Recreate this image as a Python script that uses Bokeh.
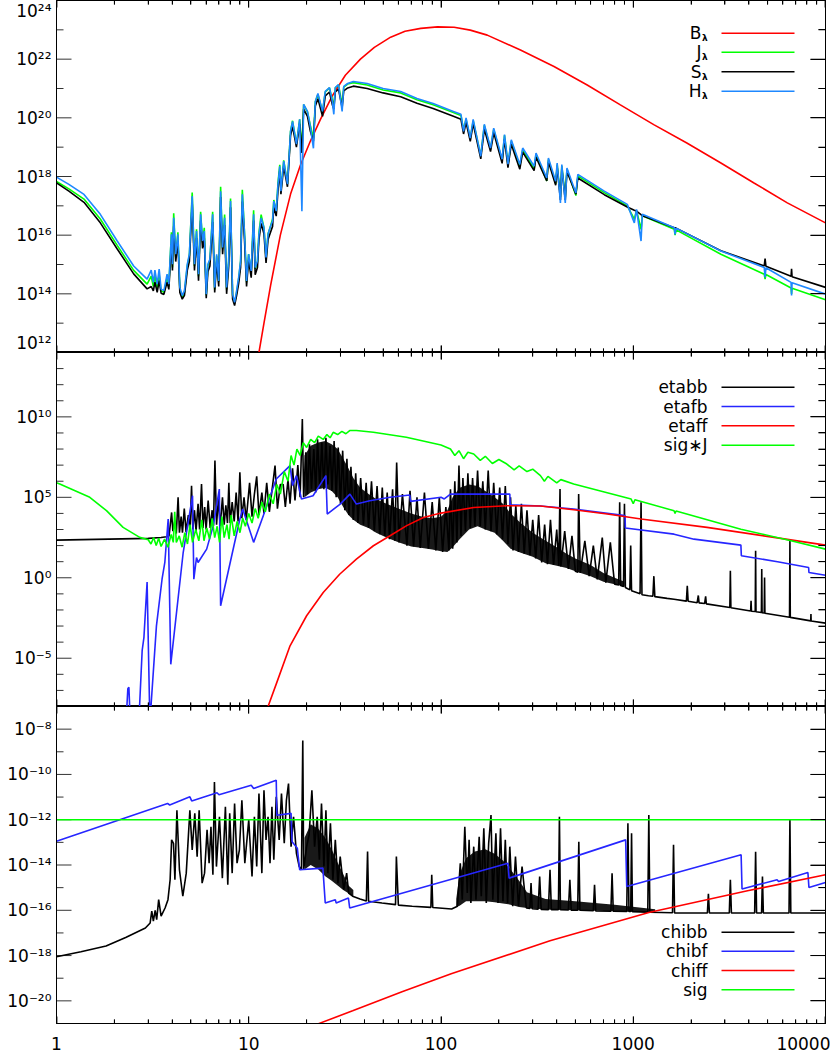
import numpy as np
from bokeh.plotting import figure
from bokeh.layouts import column
from bokeh.models import Range1d, LogAxis, FixedTicker, CustomJSTickFormatter
from bokeh.core.properties import value
from bokeh.embed import file_html
from bokeh.resources import INLINE

# ---------------- DATA (wavelength in micron, values as log10) ----------------
# Top panel: shared wavelength grid for H, J, S (line region)
lam_top_a = [1.0, 1.16, 1.39, 1.69, 2.07, 2.52, 2.96, 3.11, 3.19, 3.25,
             3.34, 3.42, 3.50, 3.62, 3.76, 3.84, 3.96, 4.01, 4.07, 4.17,
             4.28, 4.38, 4.51, 4.63, 4.79, 4.91, 5.08, 5.22, 5.35, 5.48,
             5.62, 5.75, 5.87, 6.01, 6.13, 6.28, 6.49, 6.65, 6.81, 6.98,
             7.14, 7.31, 7.49, 7.67, 7.86, 8.04, 8.24, 8.44, 8.65, 8.86,
             9.07, 9.26, 9.51, 9.74, 9.98, 10.3, 10.6, 10.8, 11.1, 11.3,
             11.6, 12.0, 12.3, 12.6, 12.9, 13.3, 13.5, 13.9, 14.2, 14.5,
             14.7, 15.2, 15.9, 16.5, 16.9, 17.7, 18.4, 18.9, 19.3, 20.2,
             20.9, 21.7, 22.2, 22.9, 24.2, 25.0, 26.3, 27.2, 27.7, 28.2,
             29.3, 30.6, 31.2, 32.7]
H_a = [17.98, 17.73, 17.39, 16.71, 15.80, 14.95, 14.50, 14.81, 14.39, 14.81,
       14.33, 14.84, 14.16, 14.11, 14.67, 14.33, 16.03, 15.01, 16.59, 15.35,
       16.03, 14.22, 13.94, 14.11, 15.01, 15.35, 17.33, 15.01, 16.14, 14.67,
       16.71, 15.80, 16.14, 13.99, 15.01, 15.18, 16.71, 14.22, 15.35, 14.44,
       17.50, 15.58, 16.59, 14.22, 15.12, 17.16, 13.99, 13.71, 14.11, 14.56,
       15.12, 17.39, 16.03, 14.44, 15.35, 14.78, 16.71, 14.90, 15.12, 16.03,
       16.59, 16.25, 15.24, 16.03, 16.25, 16.48, 17.16, 16.82, 17.73, 18.35,
       17.50, 18.52, 17.74, 19.54, 19.88, 19.10, 19.95, 16.82, 20.46, 20.22,
       19.71, 18.96, 20.56, 20.83, 20.22, 20.90, 21.03, 20.56, 20.12, 21.03,
       21.13, 20.22, 21.07, 21.17]
S_a = [17.78, 17.50, 17.12, 16.42, 15.53, 14.68, 14.17, 14.25, 14.10, 14.40,
       14.05, 14.45, 14.02, 13.98, 14.40, 14.15, 15.70, 14.80, 16.30, 15.10,
       15.80, 14.05, 13.82, 13.95, 14.80, 15.10, 17.10, 14.80, 15.90, 14.45,
       16.50, 15.55, 15.90, 13.85, 14.75, 14.95, 16.45, 14.05, 15.10, 14.25,
       17.30, 15.35, 16.35, 14.00, 14.90, 16.95, 13.82, 13.60, 13.95, 14.35,
       14.90, 17.15, 15.80, 14.25, 15.15, 14.55, 16.50, 14.65, 14.90, 15.85,
       16.40, 16.05, 15.05, 15.85, 16.05, 16.30, 16.95, 16.65, 17.55, 18.20,
       17.40, 18.35, 17.65, 19.40, 19.70, 19.00, 19.80, 18.80, 20.30, 20.05,
       19.55, 19.20, 20.40, 20.65, 20.05, 20.75, 20.88, 20.45, 20.30, 20.88,
       20.98, 20.35, 20.92, 21.02]
J_a = [17.83, 17.58, 17.23, 16.55, 15.65, 14.80, 14.33, 14.60, 14.25, 14.60,
       14.20, 14.65, 14.10, 14.05, 14.55, 14.25, 16.10, 14.90, 16.75, 15.25,
       16.10, 14.15, 13.88, 14.05, 14.95, 15.30, 17.45, 14.95, 16.20, 14.60,
       16.80, 15.75, 16.25, 13.95, 14.95, 15.15, 16.80, 14.15, 15.30, 14.40,
       17.65, 15.55, 16.70, 14.15, 15.10, 17.25, 13.95, 13.68, 14.05, 14.50,
       15.10, 17.55, 16.05, 14.40, 15.35, 14.75, 16.85, 14.85, 15.10, 16.10,
       16.70, 16.25, 15.20, 16.05, 16.25, 16.55, 17.20, 16.80, 17.80, 18.40,
       17.50, 18.55, 17.75, 19.55, 19.90, 19.10, 19.95, 18.90, 20.45, 20.20,
       19.75, 19.30, 20.55, 20.80, 20.20, 20.88, 21.02, 20.60, 20.40, 21.02,
       21.12, 20.45, 21.05, 21.15]
# Top panel: shared grid for the long-wavelength part
lam_top_b = [35.0, 41.3, 50, 61.7, 75, 91, 116, 127,
             131, 135, 142, 147, 161, 168, 181, 188,
             208, 214, 223, 232, 257, 266, 305, 312,
             355, 362, 395, 402, 418, 425, 443, 452,
             503, 515, 707, 931, 1013, 1040, 1098, 1115,
             1635, 1650, 1670, 2857, 4800, 4850, 4900, 6620,
             6660, 6700, 10000]
H_b = [21.24, 21.17, 21.00, 20.90, 20.66, 20.49, 20.22, 20.12,
       19.54, 20.00, 19.31, 19.95, 18.69, 19.78, 18.97, 19.65,
       18.59, 19.43, 18.42, 19.25, 18.41, 18.97, 18.35, 18.80,
       17.95, 18.63, 17.84, 18.46, 17.10, 18.41, 17.10, 18.29,
       17.44, 18.07, 17.50, 17.05, 16.42, 16.88, 15.80, 16.71,
       16.25, 16.03, 16.24, 15.46, 14.90, 14.56, 14.89, 14.39,
       13.94, 14.38, 13.99]
S_b = [21.08, 21.00, 20.85, 20.72, 20.50, 20.32, 20.05, 19.95,
       19.45, 19.85, 19.20, 19.80, 18.60, 19.62, 18.85, 19.50,
       18.45, 19.28, 18.30, 19.10, 18.25, 18.83, 18.20, 18.66,
       17.85, 18.50, 17.70, 18.33, 17.20, 18.28, 17.20, 18.17,
       17.40, 17.95, 17.38, 16.96, 16.85, 16.82, 16.70, 16.66,
       16.25, 16.25, 16.24, 15.47, 14.95, 15.20, 14.94, 14.60,
       14.85, 14.58, 14.22]
J_b = [21.20, 21.12, 20.95, 20.85, 20.62, 20.45, 20.18, 20.08,
       19.60, 19.95, 19.30, 19.90, 18.70, 19.74, 18.95, 19.60,
       18.55, 19.40, 18.40, 19.20, 18.35, 18.92, 18.25, 18.75,
       17.85, 18.58, 17.75, 18.41, 17.30, 18.36, 17.30, 18.25,
       17.35, 18.02, 17.45, 17.00, 16.55, 16.84, 16.20, 16.66,
       16.20, 16.00, 16.18, 15.35, 14.67, 14.50, 14.66, 14.20,
       14.00, 14.19, 13.80]
lam_B = [10.5, 11.3, 12.0, 13.0, 14.6, 16.5, 18.6, 20.9, 23.6, 27.2,
         31.8, 38.1, 45.0, 54.7, 65.0, 78.5, 95.9, 117, 142, 174,
         259, 387, 576, 857, 1278, 1900, 2857, 4247, 6330, 10000]
B_vals = [11.3, 12.0, 13.0, 14.3, 16.0, 17.4, 18.4, 19.2, 19.95, 20.75,
          21.45, 22.0, 22.4, 22.75, 22.95, 23.05, 23.10, 23.09, 22.99, 22.82,
          22.31, 21.75, 21.12, 20.44, 19.77, 19.14, 18.46, 17.78, 17.10, 16.42]

# Middle panel: (wavelength, log10 value)
etabb = [(1.0, 2.34), (3.0, 2.45), (3.5, 2.50), (3.73, 2.55), (3.85, 2.60), (3.97, 4.06),
         (4.03, 2.90), (4.12, 3.50), (4.20, 2.75), (4.29, 5.00), (4.36, 2.80), (4.45, 3.80),
         (4.52, 2.80), (4.62, 4.30), (4.72, 2.85), (4.85, 3.90), (4.95, 2.90), (5.04, 5.72),
         (5.12, 3.00), (5.22, 4.20), (5.32, 2.90), (5.45, 4.60), (5.55, 3.00), (5.68, 5.83),
         (5.78, 3.10), (5.90, 4.40), (6.00, 3.00), (6.15, 4.80), (6.30, 3.10), (6.45, 4.20),
         (6.55, 3.20), (6.67, 7.28), (6.80, 3.30), (6.95, 4.90), (7.10, 3.20), (7.30, 5.00),
         (7.45, 3.30), (7.60, 4.50), (7.75, 3.40), (7.88, 5.90), (8.00, 3.40), (8.20, 4.70),
         (8.40, 3.50), (8.60, 5.30), (8.80, 3.50), (8.99, 6.55), (9.20, 3.70), (9.45, 5.00),
         (9.70, 3.60), (10.1, 5.90), (10.4, 3.80), (10.7, 5.20), (11.0, 6.30), (11.3, 3.90),
         (11.7, 5.30), (12.0, 4.00), (12.4, 5.90), (12.8, 4.10), (13.2, 5.40), (13.7, 6.97),
         (14.1, 4.30), (14.6, 5.80), (15.1, 5.80), (15.5, 4.40), (16.0, 6.10), (16.4, 4.60),
         (16.9, 6.80), (17.4, 4.80), (18.0, 7.00), (18.5, 5.00), (19.0, 9.87), (19.3, 5.00),
         (19.8, 7.80), (20.2, 5.20), (20.7, 8.30), (21.2, 5.50), (21.8, 8.00), (22.3, 5.30),
         (22.8, 8.60), (23.4, 5.60), (24.0, 8.40), (24.6, 5.50), (25.2, 8.70), (25.8, 5.80),
         (26.5, 8.20), (27.1, 5.40), (27.8, 8.50), (28.5, 5.00), (29.2, 8.10), (30.0, 4.60),
         (30.8, 7.90), (31.6, 4.20), (32.4, 7.40), (33.2, 3.90), (34.0, 6.90), (35.0, 3.60),
         (36.0, 6.50), (37.0, 3.40), (38.2, 6.20), (39.5, 3.30), (40.8, 5.90), (42.0, 3.10),
         (43.5, 6.00), (45.0, 2.90), (46.5, 5.70), (48.0, 2.70), (49.5, 5.60), (51.0, 2.60),
         (52.5, 5.30), (54.0, 2.40), (56.0, 5.50), (57.5, 2.30), (58.8, 7.17), (60.5, 2.20),
         (63.0, 5.20), (66.5, 2.00), (69.0, 5.40), (72.0, 1.95), (75.0, 5.00), (78.0, 1.85),
         (82.0, 5.30), (86.0, 1.80), (90.0, 4.70), (94.0, 1.70), (98.0, 5.00), (102, 1.60),
         (106, 4.40), (110, 1.70), (112, 5.50), (115, 1.80), (118, 6.00), (121, 2.20),
         (124, 6.97), (127, 2.60), (130, 6.20), (134, 2.90), (138, 6.50), (142, 3.10),
         (146, 6.20), (150, 3.20), (155, 6.66), (160, 3.20), (165, 6.00), (170, 3.00),
         (176, 6.66), (182, 2.90), (188, 5.90), (195, 2.70), (202, 5.60), (209, 2.40),
         (216, 5.70), (223, 2.10), (230, 5.00), (237, 1.70), (245, 4.50), (253, 1.60),
         (262, 4.60), (271, 1.50), (280, 4.20), (290, 1.40), (300, 3.60), (311, 1.20),
         (322, 3.90), (334, 0.95), (346, 3.30), (358, 0.85), (371, 3.60), (385, 0.80),
         (400, 3.00), (410, 0.75), (416, 5.51), (420, 0.70), (440, 2.90), (460, 0.55),
         (480, 2.60), (500, 0.40), (515, 0.35), (520, 5.20), (530, 0.30), (560, 2.30),
         (590, 0.10), (620, 2.00), (650, -0.10), (690, 2.50), (720, -0.30), (760, 2.20),
         (800, -0.40), (840, -0.45), (850, 4.70), (860, -0.48), (890, -0.55), (900, 4.60),
         (910, -0.60), (960, -0.75), (970, 2.00), (980, -0.80), (1085, -1.00), (1098, 4.69),
         (1110, -1.05), (1200, -1.12), (1265, -1.15), (1280, 0.10), (1295, -1.17), (1500, -1.28),
         (1630, -1.33), (1890, -1.45), (1910, -0.50), (1930, -1.46), (2150, -1.55), (2180, -1.10),
         (2200, -1.56), (2350, -1.60), (2380, -1.15), (2400, -1.62), (3180, -1.85), (3200, 0.44),
         (3220, -1.86), (4080, -2.07), (4100, -1.43), (4120, -2.08), (4310, -2.10), (4330, 1.68),
         (4350, -2.11), (4640, -2.16), (4660, 0.54), (4680, -2.17), (4800, -2.19), (4820, 0.02),
         (4840, -2.20), (6500, -2.45), (6530, 2.30), (6560, -2.46), (8380, -2.68), (8400, -2.26),
         (8420, -2.69), (10000, -2.82)]
# dense line-forest of etabb: (wavelength, lower log10, upper log10)
etabb_band = [(19.5, 5.0, 7.6), (21.0, 5.3, 8.2), (23.0, 5.5, 8.4), (25.0, 5.6, 8.5),
              (27.0, 5.4, 8.3), (29.0, 5.0, 8.0), (31.0, 4.4, 7.4), (33.0, 3.9, 6.8),
              (35.0, 3.6, 6.2), (38.0, 3.3, 5.6), (42.0, 3.1, 5.2), (46.0, 2.8, 4.9),
              (52.0, 2.5, 4.6), (60.0, 2.2, 4.3), (70.0, 1.95, 4.0), (80.0, 1.85, 3.8),
              (90.0, 1.75, 3.7), (100, 1.65, 3.8), (108, 1.6, 4.2), (115, 1.9, 5.0),
              (125, 2.4, 5.6), (140, 3.0, 5.8), (155, 3.2, 5.7), (170, 3.0, 5.4),
              (190, 2.8, 5.0), (210, 2.3, 4.6), (230, 1.8, 4.0), (260, 1.55, 3.4),
              (300, 1.3, 2.8), (350, 0.9, 2.3), (400, 0.75, 1.9), (450, 0.6, 1.5),
              (500, 0.4, 1.2), (600, 0.1, 0.8), (700, -0.25, 0.3), (800, -0.4, 0.0),
              (900, -0.55, -0.25)]
etafb = [(2.30, -9.0), (2.35, -6.9), (2.38, -6.8), (2.42, -9.0), (2.68, -9.0), (2.79, -4.52),
         (2.85, -3.70), (2.96, -0.27), (3.06, -9.0), (3.31, -2.99), (3.54, -0.09), (3.66, 0.95),
         (3.81, 3.65), (3.93, -5.38), (4.56, 1.57), (5.10, 5.10), (5.18, -0.09), (5.35, 1.26),
         (5.45, 0.95), (6.04, 1.78), (6.54, 3.24), (7.03, 5.51), (7.14, -1.74), (8.99, 3.65),
         (9.3, 4.27), (10.6, 2.20), (11.9, 3.86), (13.9, 6.14), (16.4, 6.97), (16.9, 5.73),
         (17.7, 6.35), (18.8, 4.89), (21.6, 5.10), (25.2, 6.35), (25.6, 3.96), (29.9, 4.58),
         (33.6, 5.20), (36.3, 4.58), (42.6, 4.79), (54.3, 5.00), (68.8, 5.14), (69.5, 4.75),
         (100, 5.00), (104, 4.90), (112, 5.20), (228, 5.20), (229, 4.54), (329, 4.46),
         (490, 4.27), (906, 3.86), (910, 3.09), (1630, 2.71), (2070, 2.40), (3630, 2.03),
         (3650, 1.37), (5630, 1.00), (8170, 0.64), (8200, 0.33), (10000, 0.16)]
etaff = [(12.0, -9.0), (12.6, -8.0), (14.0, -6.5), (16.4, -4.23), (20.0, -2.36), (24.4, -0.91),
         (29.7, 0.22), (36.3, 1.16), (44.5, 1.99), (54.3, 2.61), (66.3, 3.24), (81, 3.75),
         (100, 4.02), (148, 4.37), (220, 4.48), (329, 4.46), (490, 4.23), (733, 3.96),
         (1097, 3.65), (2420, 3.13), (5400, 2.51), (10000, 2.03)]
sigJ = [(1.0, 5.90), (1.04, 5.83), (1.49, 5.00), (1.82, 4.17), (2.22, 3.13), (2.71, 2.51),
        (3.0, 2.36), (3.1, 2.10), (3.2, 2.50), (3.3, 2.00), (3.4, 2.45), (3.5, 1.95),
        (3.65, 2.40), (3.8, 1.90), (3.95, 2.70), (4.05, 2.20), (4.12, 4.10), (4.2, 2.20),
        (4.35, 2.60), (4.5, 1.90), (4.65, 2.80), (4.8, 2.10), (4.95, 3.30), (5.1, 2.20),
        (5.3, 3.00), (5.5, 2.30), (5.7, 3.60), (5.85, 2.30), (6.05, 3.10), (6.25, 2.40),
        (6.45, 3.70), (6.65, 2.50), (6.85, 3.20), (7.05, 2.20), (7.25, 3.80), (7.45, 2.50),
        (7.7, 3.30), (7.9, 2.40), (8.1, 3.90), (8.4, 2.60), (8.7, 3.50), (9.0, 2.80),
        (9.3, 3.70), (9.6, 3.20), (10.0, 4.00), (10.4, 3.40), (10.8, 4.30), (11.2, 3.70),
        (11.7, 4.70), (12.2, 4.10), (12.8, 5.20), (13.4, 4.60), (14.0, 5.80), (14.6, 5.20),
        (15.3, 6.60), (16.0, 6.00), (16.6, 7.60), (17.2, 7.00), (17.8, 8.00), (18.5, 7.60),
        (19.2, 8.40), (20.0, 8.10), (21.0, 8.60), (22.0, 8.40), (23.0, 8.80), (24.4, 8.60),
        (25.5, 8.90), (26.5, 8.70), (27.5, 9.04), (29.0, 8.90), (30.5, 9.10), (32.0, 8.95),
        (33.5, 9.15), (36.3, 9.15), (44.5, 9.04), (66, 8.73), (100, 8.25), (112, 8.00),
        (118, 7.60), (124, 7.90), (131, 7.40), (138, 7.80), (148, 7.69), (160, 7.30),
        (170, 7.55), (185, 7.10), (200, 7.35), (220, 7.07), (240, 6.70), (255, 6.95),
        (280, 6.60), (300, 6.75), (329, 6.35), (345, 6.00), (360, 6.30), (400, 5.90),
        (420, 6.10), (490, 5.83), (975, 4.89), (1000, 4.60), (1020, 4.85), (1630, 4.17),
        (1650, 4.00), (1670, 4.15), (3630, 3.02), (6620, 2.30), (10000, 1.78)]

# Bottom panel: (wavelength, log10 value)
chibb = [(1.0, -18.05), (1.34, -17.83), (1.81, -17.58), (2.29, -17.20), (2.9, -16.78), (3.07, -16.56),
         (3.13, -16.04), (3.19, -16.48),
         (3.26, -16.00), (3.32, -16.41), (3.40, -15.53), (3.50, -16.26), (3.67, -15.90), (3.80, -15.53),
         (3.90, -14.65), (3.97, -12.89), (4.06, -13.04), (4.13, -14.65), (4.23, -11.58), (4.36, -14.21),
         (4.54, -15.38), (4.73, -14.36), (4.94, -11.58), (5.08, -13.33), (5.24, -11.72), (5.39, -13.63),
         (5.52, -11.58), (5.72, -14.80), (5.89, -14.36), (6.07, -12.45), (6.22, -13.92), (6.36, -12.31),
         (6.51, -14.43), (6.63, -10.33), (6.79, -14.07), (7.04, -11.87), (7.29, -14.58), (7.56, -11.43),
         (7.78, -14.87), (7.96, -11.72), (8.20, -14.36), (8.44, -11.28), (8.69, -13.92), (8.94, -13.33),
         (9.21, -11.14), (9.54, -13.92), (10.0, -12.01), (10.4, -14.51), (10.7, -11.87), (11.0, -14.07),
         (11.3, -10.84), (11.7, -14.36), (12.0, -10.70), (12.3, -12.89), (12.6, -11.87), (12.9, -13.92),
         (13.2, -11.43), (13.5, -13.77), (13.9, -10.99), (14.4, -12.89), (14.8, -10.84), (15.3, -13.04),
         (15.7, -11.14), (16.1, -10.40), (16.6, -13.19), (17.1, -11.87), (17.7, -13.48), (18.3, -14.07),
         (18.8, -14.21), (19.1, -8.50), (19.3, -14.21), (20.0, -13.19), (20.6, -12.67), (21.3, -10.70),
         (22.0, -13.19), (22.7, -11.87), (23.3, -13.77), (23.9, -11.28), (24.6, -14.07), (25.2, -11.58),
         (25.8, -14.36), (26.6, -12.16), (27.4, -14.65), (28.2, -12.89), (29.1, -14.80), (29.9, -13.63),
         (31.2, -15.09), (32.3, -14.36), (33.1, -15.24), (34.7, -15.38), (37.9, -15.50), (40.9, -15.59),
         (41.5, -13.41), (42.0, -15.60), (49.3, -15.68), (58.0, -15.75), (58.6, -13.63), (60.0, -15.77),
         (70.8, -15.82), (88.6, -15.87), (89.5, -14.43), (90.6, -15.88), (113.6, -15.94), (121.7, -15.82),
         (126, -13.92), (129, -15.53), (133, -12.31), (137, -15.24), (140, -12.89), (143, -15.68),
         (148, -13.19), (152, -15.53), (158, -12.75), (162, -15.38), (167, -12.38), (172, -15.68),
         (177, -13.04), (182, -11.79), (186, -15.53), (193, -12.60), (198, -15.68), (204, -12.38),
         (210, -15.60), (216, -12.89), (222, -15.68), (228, -13.19), (236, -15.82), (244, -13.63),
         (253, -15.82), (264, -14.07), (278, -15.90), (290, -15.92), (294, -14.80), (298, -15.93),
         (320, -15.95), (326, -14.51), (332, -15.96), (362, -15.97), (369, -14.21), (375, -15.97),
         (408, -15.97), (413, -11.87), (418, -15.97), (460, -15.99), (468, -14.65), (476, -16.00),
         (514, -16.00), (521, -12.97), (528, -16.00), (620, -16.02), (629, -14.87), (638, -16.03),
         (765, -16.04), (776, -14.36), (787, -16.04), (925, -16.05), (938, -12.16), (950, -16.05),
         (970, -16.05), (980, -12.60), (990, -16.06), (1190, -16.08), (1205, -11.79), (1220, -16.09),
         (1600, -16.11), (1620, -13.11), (1640, -16.12), (2430, -16.12), (2460, -15.27), (2490, -16.12),
         (3160, -16.12), (3200, -14.65), (3240, -16.12), (4280, -16.12), (4330, -13.41), (4380, -16.12),
         (4650, -16.12), (4700, -14.51), (4750, -16.12), (6460, -16.12), (6530, -12.01), (6600, -16.12),
         (10000, -16.12)]
# dense line-forests of chibb: (wavelength, lower log10, upper log10)
chibb_band1 = [(19.5, -14.2, -12.8), (21.0, -14.0, -12.2), (23.0, -14.2, -12.4), (25.0, -14.5, -12.8),
               (27.0, -14.7, -13.3), (29.0, -14.9, -13.9), (31.0, -15.1, -14.4), (33.0, -15.25, -14.9),
               (35.0, -15.4, -15.1)]
chibb_band2 = [(120, -15.85, -15.5), (125, -15.8, -14.4), (135, -15.6, -13.7), (150, -15.6, -13.4),
               (170, -15.6, -13.3), (190, -15.65, -13.5), (210, -15.7, -13.8), (230, -15.75, -14.2),
               (255, -15.85, -14.7), (280, -15.9, -15.2), (350, -15.97, -15.5), (500, -16.0, -15.6),
               (800, -16.04, -15.75), (1300, -16.1, -15.95)]
chibf = [(1.0, -12.95), (3.78, -11.28), (3.88, -11.35), (4.94, -10.99), (5.05, -11.17), (6.84, -10.81),
         (7.0, -10.90), (10.3, -10.48), (10.6, -10.62), (13.9, -10.26), (14.0, -11.80), (16.6, -11.72),
         (16.8, -12.97), (17.9, -13.26), (18.4, -14.21), (24.3, -14.14), (25.0, -15.68), (28.2, -15.53),
         (28.5, -15.68), (33.0, -15.46), (33.5, -15.90), (223, -13.92), (226, -14.58), (913, -12.89),
         (925, -14.95), (3640, -13.55), (3680, -15.06), (5600, -14.65), (5700, -14.73), (8100, -14.33),
         (8200, -14.99), (10000, -14.77)]
chiff = [(20.0, -21.5), (22.7, -21.03), (34.7, -20.44), (62.7, -19.6), (113, -18.8), (369, -17.35),
         (1205, -16.1), (3930, -15.14), (10000, -14.43)]
sig = [(1.0, -12.0), (10000, -12.0)]

# tick positions
X_MAJOR = [1, 10, 100, 1000, 10000]
X_MINOR = [k * 10 ** d for d in range(4) for k in range(2, 10)]

# ---------------- STYLE / GEOMETRY ----------------
FONT = "DejaVu Sans"
RED, GREEN, BLACK = "#ff0000", "#00ff00", "#000000"
HBLUE, BLUE = "#1e88ff", "#2626ff"
LW = 1.6
TICK = "black"
W = 830
FL, FW = 56.0, 769.0          # frame left edge and width (page px)

SUP_JS = """
const sup = {"0":"\\u2070","1":"\\u00b9","2":"\\u00b2","3":"\\u00b3","4":"\\u2074",
             "5":"\\u2075","6":"\\u2076","7":"\\u2077","8":"\\u2078","9":"\\u2079","-":"\\u207b"};
const e = Math.floor(Math.log10(tick) + 1e-6);
let s = "";
for (const c of String(e)) s += sup[c];
return "10" + s;
"""

XR = Range1d(1, 1e4)


def style_axis(ax, labeled, ticker, major, minor, fmt=None, standoff=5):
    ax.ticker = ticker
    ax.major_tick_in = major
    ax.major_tick_out = 0
    ax.minor_tick_in = minor
    ax.minor_tick_out = 0
    ax.axis_line_color = "black"
    ax.axis_line_width = 1
    ax.major_tick_line_color = TICK
    ax.minor_tick_line_color = TICK
    if labeled:
        ax.formatter = fmt
        ax.major_label_text_font = FONT
        ax.major_label_text_font_size = "17px"
        ax.major_label_text_color = "black"
        ax.major_label_standoff = standoff
    else:
        ax.formatter = CustomJSTickFormatter(code="return '';")
        ax.major_label_text_font_size = "0px"
        ax.major_label_standoff = 0


def xpx(px):
    return 10 ** ((px - FL) / FW * 4.0)


def ypx(py, geom):
    top, h, lmin, lmax = geom
    return 10 ** (lmin + (top + h - py) / h * (lmax - lmin))


def add_ticks(p, geom, ymaj, ymin):
    """Inward tick marks on all four sides, drawn as short segments inside the frame."""
    top, h, lmin, lmax = geom
    lo, hi = 10 ** lmin, 10 ** lmax
    edge_l, edge_r = xpx(FL + 0.5), xpx(FL + FW - 0.5)
    edge_t, edge_b = ypx(top + 0.5, geom), ypx(top + h - 0.5, geom)
    x0s, y0s, x1s, y1s = [], [], [], []
    for yt, ln in [(ymaj, 15), (ymin, 7)]:
        for t in yt:
            if lo < t < hi:
                x0s += [edge_l, edge_r]
                x1s += [xpx(FL + ln), xpx(FL + FW - ln)]
                y0s += [t, t]
                y1s += [t, t]
    for xt, ln in [(X_MAJOR, 7), (X_MINOR, 4)]:
        for t in xt:
            tx = min(max(float(t), edge_l), edge_r)
            x0s += [tx, tx]
            x1s += [tx, tx]
            y0s += [edge_t, edge_b]
            y1s += [ypx(top + ln, geom), ypx(top + h - ln, geom)]
    p.segment(x0=x0s, y0=y0s, x1=x1s, y1=y1s, line_color=TICK, line_width=1.0, line_alpha=0.8)


def panel(geom, label_ticks, ymaj, ymin, mbb, xlabels):
    top, h, lmin, lmax = geom
    p = figure(width=W, height=int(h + mbb), x_axis_type="log", y_axis_type="log",
               x_range=XR, y_range=Range1d(10 ** lmin, 10 ** lmax),
               output_backend="svg", toolbar_location=None,
               min_border_left=int(FL), min_border_right=int(W - FL - FW),
               min_border_top=0, min_border_bottom=mbb)
    p.xgrid.visible = False
    p.ygrid.visible = False
    p.outline_line_color = "black"
    p.outline_line_width = 1
    p.background_fill_color = "white"
    p.border_fill_color = "white"
    # tick marks first, so nothing drawn later can stop them from appearing
    add_ticks(p, geom, ymaj, ymin)
    style_axis(p.yaxis[0], True, FixedTicker(ticks=label_ticks, minor_ticks=[]), 0, 0,
               CustomJSTickFormatter(code=SUP_JS))
    right = LogAxis()
    style_axis(right, False, FixedTicker(ticks=ymaj, minor_ticks=ymin), 15, 7)
    p.add_layout(right, "right")
    style_axis(p.xaxis[0], xlabels, FixedTicker(ticks=X_MAJOR, minor_ticks=X_MINOR), 7, 4,
               CustomJSTickFormatter(code="return String(Math.round(tick));"), 13)
    above = LogAxis()
    style_axis(above, False, FixedTicker(ticks=X_MAJOR, minor_ticks=X_MINOR), 7, 4)
    p.add_layout(above, "above")
    return p


def legend(p, rows, geom, sub=False):
    for (txt, col, py) in rows:
        yy = ypx(py, geom)
        p.line([xpx(721), xpx(794)], [yy, yy], line_color=col, line_width=1.4)
        if sub:
            p.text(x=[xpx(701)], y=[yy], text=[txt], text_align="right", text_baseline="middle",
                   text_font=value(FONT), text_font_size="17px", text_color="black")
            p.text(x=[xpx(701.5)], y=[ypx(py + 5, geom)], text=["\u03bb"],
                   text_align="left", text_baseline="middle", text_font=value(FONT),
                   text_font_size="9px", text_font_style="bold", text_color="black")
        else:
            p.text(x=[xpx(707)], y=[yy], text=[txt], text_align="right", text_baseline="middle",
                   text_font=value(FONT), text_font_size="17px", text_color="black")


def pairs(lst):
    a = np.array(lst, dtype=float)
    return a[:, 0], 10 ** a[:, 1]


def band(p, lst, color):
    a = np.array(lst, dtype=float)
    p.varea(x=a[:, 0], y1=10 ** a[:, 1], y2=10 ** a[:, 2], fill_color=color, fill_alpha=0.9)


# ---------------- TOP PANEL ----------------
G1 = (0.0, 352.0, 12.0, 24.0)
T_MAJ = [10.0 ** e for e in range(12, 25, 2)]
T_MIN = [10.0 ** e for e in range(13, 24, 2)]
# the lowest label sits just above the panel edge, as in the original
T_LAB = [ypx(344.0, G1)] + T_MAJ[1:]
p1 = panel(G1, T_LAB, T_MAJ, T_MIN, 0, False)
lam_top = np.array(lam_top_a + lam_top_b, dtype=float)
p1.line(np.array(lam_B, float), 10 ** np.array(B_vals), line_color=RED, line_width=LW)
p1.line(lam_top, 10 ** np.array(J_a + J_b), line_color=GREEN, line_width=LW)
p1.line(lam_top, 10 ** np.array(S_a + S_b), line_color=BLACK, line_width=LW)
p1.line(lam_top, 10 ** np.array(H_a + H_b), line_color=HBLUE, line_width=LW)
legend(p1, [("B", RED, 32.7), ("J", GREEN, 51.7), ("S", BLACK, 71.3), ("H", HBLUE, 90.7)], G1, sub=True)

# ---------------- MIDDLE PANEL ----------------
G2 = (352.0, 354.0, -8.0, 14.0)
M_MAJ = [1e-5, 1.0, 1e5, 1e10]
M_MIN = [10.0 ** e for e in range(-8, 15) if e % 5 != 0]
p2 = panel(G2, M_MAJ, M_MAJ, M_MIN, 0, False)
band(p2, etabb_band, BLACK)
for data, col in [(etabb, BLACK), (etafb, BLUE), (etaff, RED), (sigJ, GREEN)]:
    x, y = pairs(data)
    p2.line(x, y, line_color=col, line_width=LW)
legend(p2, [("etabb", BLACK, 386.7), ("etafb", BLUE, 406.0), ("etaff", RED, 425.3),
            ("sig\u2217J", GREEN, 444.7)], G2)

# ---------------- BOTTOM PANEL ----------------
G3 = (706.0, 317.0, -21.0, -7.0)
B_MAJ = [10.0 ** e for e in range(-20, -7, 2)]
B_MIN = [10.0 ** e for e in range(-21, -6, 2)]
p3 = panel(G3, B_MAJ, B_MAJ, B_MIN, 37, True)
band(p3, chibb_band1, BLACK)
band(p3, chibb_band2, BLACK)
for data, col in [(chibb, BLACK), (chibf, BLUE), (chiff, RED), (sig, GREEN)]:
    x, y = pairs(data)
    p3.line(x, y, line_color=col, line_width=LW)
legend(p3, [("chibb", BLACK, 931.7), ("chibf", BLUE, 950.7), ("chiff", RED, 970.0),
            ("sig", GREEN, 989.3)], G3)

layout = column(p1, p2, p3, spacing=0)
with open("out.html", "w", encoding="utf-8") as f:
    f.write(file_html(layout, INLINE))
